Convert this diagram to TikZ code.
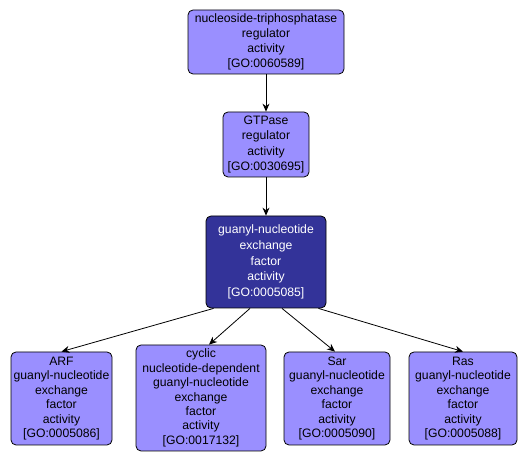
\documentclass[tikz,border=0pt]{standalone}
\usepackage{fontspec}
\setmainfont{Liberation Sans}
\usetikzlibrary{arrows.meta}
\definecolor{lightgo}{HTML}{9A8FFF}
\definecolor{darkgo}{HTML}{333399}
\begin{document}
\begin{tikzpicture}[x=1pt,y=1pt,
  goterm/.style={draw=black, line width=0.8pt, rounded corners=5pt, fill=lightgo, align=center,
     font=\fontsize{12.2}{14.4}\selectfont, inner sep=0pt, anchor=center},
  goact/.style={goterm, fill=darkgo, text=white},
  arr/.style={-{Stealth[length=8pt,width=7pt]}, line width=0.8pt}]
\useasboundingbox (0,0) rectangle (528,463);
\node[goterm, minimum width=156pt, minimum height=64pt, font=\fontsize{12.2}{15.2}\selectfont] (n1) at (266,421) {nucleoside-triphosphatase\\regulator\\activity\\{[GO:0060589]}};
\node[goterm, minimum width=86pt, minimum height=65pt, font=\fontsize{12.2}{15.2}\selectfont] (n2) at (266,318.5) {GTPase\\regulator\\activity\\{[GO:0030695]}};
\node[goact, minimum width=120pt, minimum height=92pt, font=\fontsize{12.2}{15.6}\selectfont] (n3) at (266,201) {guanyl-nucleotide\\exchange\\factor\\activity\\{[GO:0005085]}};
\node[goterm, minimum width=101pt, minimum height=93pt] (n4) at (61.5,64.5) {ARF\\guanyl-nucleotide\\exchange\\factor\\activity\\{[GO:0005086]}};
\node[goterm, minimum width=130pt, minimum height=106pt] (n5) at (201,65) {cyclic\\nucleotide-dependent\\guanyl-nucleotide\\exchange\\factor\\activity\\{[GO:0017132]}};
\node[goterm, minimum width=106pt, minimum height=93pt] (n6) at (337,64.5) {Sar\\guanyl-nucleotide\\exchange\\factor\\activity\\{[GO:0005090]}};
\node[goterm, minimum width=108pt, minimum height=93pt] (n7) at (463,64.5) {Ras\\guanyl-nucleotide\\exchange\\factor\\activity\\{[GO:0005088]}};
\draw[arr] (n1) -- (n2);
\draw[arr] (n2) -- (n3);
\draw[arr] (n3.south west) ++(8,0) coordinate (s4) (s4) -- (n4.north);
\draw[arr] ([xshift=-16pt]n3.south) -- ([xshift=8pt]n5.north);
\draw[arr] ([xshift=16pt]n3.south) -- ([xshift=-2pt]n6.north);
\draw[arr] ([xshift=-8pt]n3.south east) -- (n7.north);
\end{tikzpicture}
\end{document}
